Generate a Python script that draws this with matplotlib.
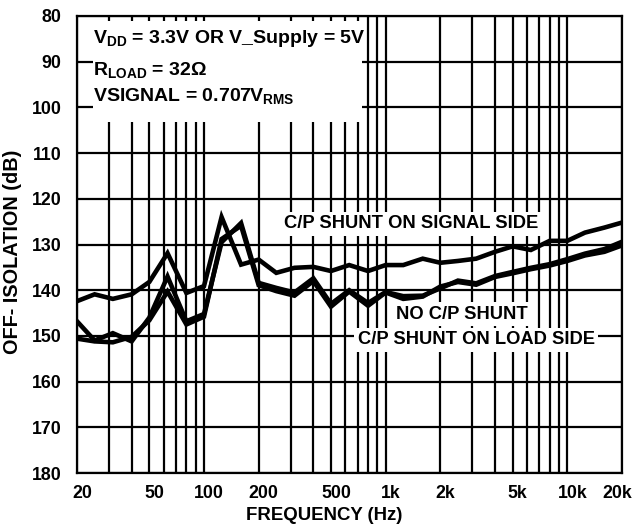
import matplotlib
matplotlib.use("Agg")
import matplotlib.pyplot as plt
from matplotlib.patches import Rectangle
from matplotlib.ticker import FixedLocator, NullFormatter, LogLocator
from matplotlib.transforms import ScaledTranslation

plt.rcParams["font.family"] = ["Liberation Sans", "DejaVu Sans"]
plt.rcParams["font.weight"] = "bold"
plt.rcParams["mathtext.fontset"] = "custom"
plt.rcParams["mathtext.rm"] = "Liberation Sans:bold"
plt.rcParams["mathtext.it"] = "Liberation Sans:bold"
plt.rcParams["mathtext.bf"] = "Liberation Sans:bold"
plt.rcParams["mathtext.default"] = "rm"

# 1/3-octave frequencies (Hz)
freq = [20, 25, 31.5, 40, 50, 63, 80, 100,
        125, 160, 200, 250, 315, 400, 500, 630, 800, 1000,
        1250, 1600, 2000, 2500, 3150, 4000, 5000, 6300, 8000, 10000,
        12500, 16000, 20000]

# off-isolation (dB)
signal_side = [142.4, 140.9, 141.9, 140.9, 138.2, 131.9, 140.6, 139.1,
               124.0, 134.4, 133.3, 136.2, 135.1, 134.9, 135.8, 134.5, 135.8, 134.5,
               134.5, 133.1, 134.0, 133.6, 133.1, 131.6, 130.4, 131.2, 129.2, 129.2,
               127.4, 126.3, 125.2]
no_shunt = [146.8, 151.0, 149.4, 151.2, 146.0, 137.0, 146.8, 145.2,
            129.5, 125.3, 138.4, 139.5, 140.5, 137.4, 143.0, 140.0, 142.8, 140.4,
            141.3, 141.2, 139.6, 137.9, 138.5, 136.9, 136.0, 135.1, 134.3, 133.2,
            132.0, 131.0, 129.4]
load_side = [150.6, 151.2, 151.4, 150.2, 146.6, 140.3, 147.5, 145.8,
             128.8, 125.9, 138.9, 140.2, 141.2, 138.0, 143.6, 140.3, 143.4, 140.5,
             141.9, 141.4, 139.2, 138.2, 138.8, 137.1, 136.3, 135.4, 134.6, 133.6,
             132.4, 131.6, 130.2]

xticks = [20, 50, 100, 200, 500, 1000, 2000, 5000, 10000, 20000]
xticklabels = ["20", "50", "100", "200", "500", "1k", "2k", "5k", "10k", "20k"]
yticks = list(range(80, 181, 10))

fig = plt.figure(figsize=(6.34, 5.29), dpi=100)
ax = fig.add_axes([77/634, 1-473/529, 545/634, 457/529])

ax.set_xscale("log")
ax.set_xlim(20, 20000)
ax.set_ylim(180, 80)

ax.xaxis.set_major_locator(FixedLocator(xticks))
ax.set_xticklabels(xticklabels)
ax.xaxis.set_minor_locator(LogLocator(base=10, subs=range(2, 10), numticks=20))
ax.xaxis.set_minor_formatter(NullFormatter())
ax.set_yticks(yticks)

ax.set_axisbelow(True)
ax.grid(True, which="both", color="black", linewidth=1.6)
ax.tick_params(which="both", length=0, labelsize=12.8)
ax.tick_params(axis="y", pad=11)
ax.tick_params(axis="x", pad=9)
for s in ax.spines.values():
    s.set_linewidth(1.6)

# x tick labels sit a little right of their lines, the last one pulled in
labels = ax.get_xticklabels()
for lab in labels[:-1]:
    lab.set_transform(lab.get_transform() + ScaledTranslation(0.05, 0, fig.dpi_scale_trans))
labels[-1].set_transform(labels[-1].get_transform() + ScaledTranslation(-0.045, 0, fig.dpi_scale_trans))

# white panel behind the conditions text
ax.add_patch(Rectangle((24.5, 81.1), 740 - 24.5, 103.3 - 81.1,
                       facecolor="white", edgecolor="none", zorder=1))

for y in (signal_side, no_shunt, load_side):
    ax.plot(freq, y, color="black", linewidth=3.3, zorder=3,
            solid_joinstyle="miter")

fs_box = 14
ax.text(24.5, 86.0, r"V$_{DD}$ = 3.3V OR V_Supply = 5V", fontsize=fs_box,
        fontweight="bold", va="baseline", zorder=4)
ax.text(24.5, 93.0, r"R$_{LOAD}$ = 32Ω", fontsize=fs_box,
        fontweight="bold", va="baseline", zorder=4)
ax.text(24.5, 98.6, r"VSIGNAL = 0.707V$_{RMS}$", fontsize=fs_box,
        fontweight="bold", va="baseline", zorder=4)

bb = dict(facecolor="white", edgecolor="none", pad=2.5)
ax.text(276, 125.5, "C/P SHUNT ON SIGNAL SIDE", fontsize=13.2,
        fontweight="bold", va="center", bbox=bb, zorder=4)
ax.text(1140, 145.3, "NO C/P SHUNT", fontsize=13.2,
        fontweight="bold", va="center", bbox=bb, zorder=4)
ax.text(704, 150.8, "C/P SHUNT ON LOAD SIDE", fontsize=13.2,
        fontweight="bold", va="center", bbox=bb, zorder=4)

ax.set_xlabel("FREQUENCY (Hz)", fontsize=13.4, fontweight="bold")
ax.set_ylabel("OFF- ISOLATION (dB)", fontsize=14.3, fontweight="bold")
ax.xaxis.set_label_coords(0.453, -0.075)
ax.yaxis.set_label_coords(-0.101, 0.484)

fig.savefig("out.png", dpi=100)
